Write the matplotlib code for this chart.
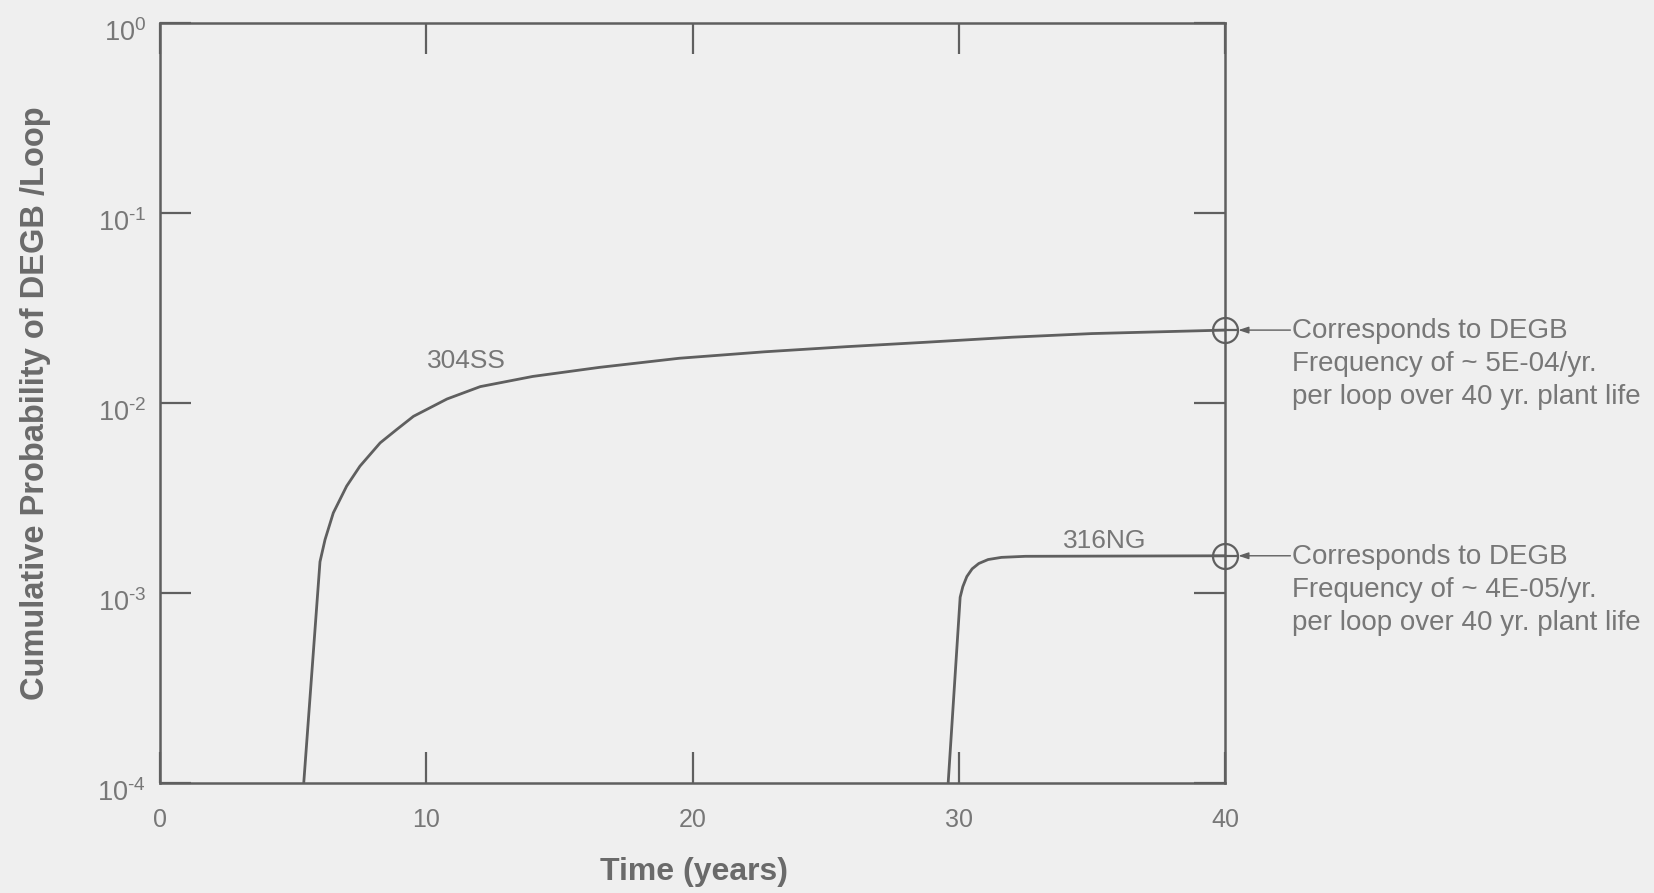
import numpy as np
import matplotlib
matplotlib.use("Agg")
import matplotlib.pyplot as plt
from matplotlib.ticker import FixedLocator, FixedFormatter, NullLocator
from matplotlib.transforms import ScaledTranslation

# curves
time_304 = [5.4, 6.01, 6.2, 6.51, 7.01, 7.51, 8.27, 8.89, 9.52, 10.78, 12.03,
            14.0, 16.5, 19.5, 22.7, 25.8, 28.8, 32.0, 35.0, 40.0]
prob_304 = [1.0e-4, 1.46e-3, 1.91e-3, 2.64e-3, 3.65e-3, 4.65e-3, 6.17e-3,
            7.25e-3, 8.51e-3, 1.05e-2, 1.22e-2, 1.38e-2, 1.54e-2, 1.72e-2,
            1.86e-2, 1.98e-2, 2.09e-2, 2.22e-2, 2.32e-2, 2.42e-2]

time_316 = [29.6, 30.05, 30.15, 30.3, 30.5, 30.75, 31.1, 31.6, 32.5, 40.0]
prob_316 = [1.0e-4, 9.5e-4, 1.08e-3, 1.22e-3, 1.34e-3, 1.43e-3, 1.5e-3,
            1.54e-3, 1.56e-3, 1.57e-3]

# end of plant life marks
mark_time = [40.0, 40.0]
mark_prob = [2.42e-2, 1.57e-3]
mark_text = ["Corresponds to DEGB\nFrequency of ~ 5E-04/yr.\nper loop over 40 yr. plant life",
             "Corresponds to DEGB\nFrequency of ~ 4E-05/yr.\nper loop over 40 yr. plant life"]

xticks = [0, 10, 20, 30, 40]
xticklabels = ["0", "10", "20", "30", "40"]
yticks = [1e-4, 1e-3, 1e-2, 1e-1, 1e0]
yticklabels = [r"$\mathregular{10^{\text{-4}}}$", r"$\mathregular{10^{\text{-3}}}$",
               r"$\mathregular{10^{\text{-2}}}$", r"$\mathregular{10^{\text{-1}}}$",
               r"$\mathregular{10^{0}}$"]

plt.rcParams['font.family'] = ['Liberation Sans', 'DejaVu Sans']
plt.rcParams['mathtext.fontset'] = 'custom'
plt.rcParams['mathtext.rm'] = 'Liberation Sans'

bg = '#efefef'
ink = '#5f5f5f'
txt = '#777777'

fig = plt.figure(figsize=(16.54, 8.93), dpi=100, facecolor=bg)
ax = fig.add_axes([0.0967, 0.1232, 0.644, 0.851])
ax.set_facecolor(bg)

ax.plot(time_304, prob_304, color=ink, lw=2.0, solid_capstyle='butt',
        solid_joinstyle='round')
ax.plot(time_316, prob_316, color=ink, lw=2.0, solid_capstyle='butt',
        solid_joinstyle='round')

ax.plot(mark_time, mark_prob, ls='none', marker='o', ms=18, mfc='none',
        mec=ink, mew=1.6, clip_on=False, zorder=5)
ax.plot(mark_time, mark_prob, ls='none', marker='_', ms=18, mec=ink,
        mew=1.6, clip_on=False, zorder=5)

for yv, s in zip(mark_prob, mark_text):
    ax.annotate("", xy=(40, yv), xycoords='data', xytext=(47, 0),
                textcoords='offset points',
                arrowprops=dict(arrowstyle='-|>,head_length=0.6,head_width=0.2',
                                color=ink, lw=1.0, shrinkA=0, shrinkB=9.5),
                annotation_clip=False)
    ax.annotate(s, xy=(40, yv), xycoords='data', xytext=(48, 8.5),
                textcoords='offset points', ha='left', va='top',
                fontsize=20, color=txt, linespacing=1.35,
                annotation_clip=False)

ax.text(466, 532, "304SS", transform=None, fontsize=19, color=txt,
        ha='center', va='center')
ax.text(1105, 352, "316NG", transform=None, fontsize=19, color=txt,
        ha='center', va='center')

ax.set_yscale('log')
ax.set_xlim(0, 40)
ax.set_ylim(1e-4, 1)

ax.xaxis.set_major_locator(FixedLocator(xticks))
ax.xaxis.set_major_formatter(FixedFormatter(xticklabels))
ax.yaxis.set_major_locator(FixedLocator(yticks))
ax.yaxis.set_major_formatter(FixedFormatter(yticklabels))
ax.yaxis.set_minor_locator(NullLocator())
ax.xaxis.set_minor_locator(NullLocator())

ax.tick_params(axis='both', which='major', direction='in', length=22,
               width=1.6, color=ink, labelcolor=txt, labelsize=18,
               top=True, right=True)
ax.tick_params(axis='x', pad=18)
ax.tick_params(axis='y', pad=10, labelsize=19.5)

# y labels sit a little below their ticks in the original
offset = ScaledTranslation(0, -5 / 72, fig.dpi_scale_trans)
for lab in ax.get_yticklabels():
    lab.set_transform(lab.get_transform() + offset)

for sp in ax.spines.values():
    sp.set_color(ink)
    sp.set_linewidth(1.8)

ax.set_ylabel("Cumulative Probability of DEGB /Loop", fontsize=23.5,
              fontweight='bold', color='#6a6a6a')
ax.yaxis.set_label_coords(-0.102, 0.5)
ax.set_xlabel("Time (years)", fontsize=23, fontweight='bold',
              color='#6a6a6a', va='center')
ax.xaxis.set_label_coords(0.5014, -0.117)

fig.savefig("out.png", dpi=100, facecolor=bg)
